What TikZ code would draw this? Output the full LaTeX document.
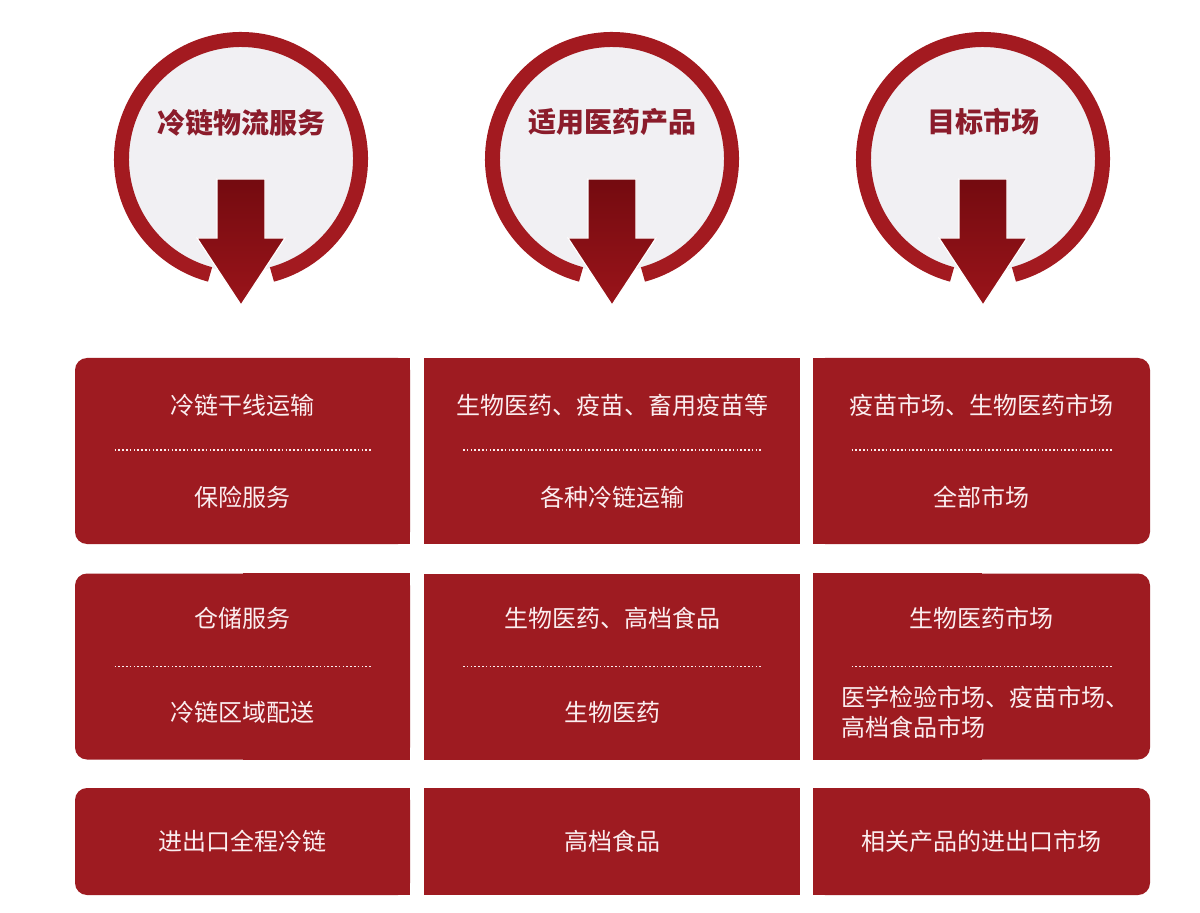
\documentclass[tikz,border=0pt]{standalone}
\usepackage{fontspec}
\setmainfont{Noto Sans CJK SC}
\usetikzlibrary{calc}
\definecolor{boxred}{HTML}{9E1B21}
\definecolor{ringred}{HTML}{A31A20}
\definecolor{arrowdark}{HTML}{6E090E}
\definecolor{arrowlight}{HTML}{9A141A}
\definecolor{titlered}{HTML}{8B1C2B}
\definecolor{discgray}{HTML}{F1F0F3}
\definecolor{itemwhite}{HTML}{FBEEF0}

\begin{document}
\begin{tikzpicture}[x=0.5pt,y=0.5pt,
  disc/.style={circle,fill=discgray,minimum size=113pt,inner sep=0pt},
  ring/.style={draw=ringred,line width=7.5pt},
  title/.style={text=titlered,font=\fontsize{14}{17}\selectfont\bfseries},
  down/.style={top color=arrowdark,bottom color=arrowlight,draw=white,line width=0.6pt},
  cell/.style={fill=boxred,inner sep=0pt,minimum height=93pt},
  item/.style={text=itemwhite,font=\fontsize{12}{15}\selectfont},
  divider/.style={draw=itemwhite,line width=0.9pt,dash pattern=on 0.8pt off 1.1pt}]

\useasboundingbox[fill=white] (0,0) rectangle (1200,912);

% heads
\node[disc] (svc) at (241,753) {};
\node[disc] (prod) at (612,753) {};
\node[disc] (mkt) at (983,753) {};

\draw[ring] ($(svc)+(-75:119.5)$) arc (-75:255:119.5);
\draw[ring] ($(prod)+(-75:119.5)$) arc (-75:255:119.5);
\draw[ring] ($(mkt)+(-75:119.5)$) arc (-75:255:119.5);

\node[title] (svc_t) at ($(svc)+(0,36)$) {冷链物流服务};
\node[title] (prod_t) at ($(prod)+(0,37)$) {适用医药产品};
\node[title] (mkt_t) at ($(mkt)+(0,37)$) {目标市场};

\draw[down] (svc.center) ++(-24,-20) -- ++(48,0) -- ++(0,-59) -- ++(20,0)
  -- ++(-44,-67) -- ++(-44,67) -- ++(20,0) -- cycle;
\draw[down] (prod.center) ++(-24,-20) -- ++(48,0) -- ++(0,-59) -- ++(20,0)
  -- ++(-44,-67) -- ++(-44,67) -- ++(20,0) -- cycle;
\draw[down] (mkt.center) ++(-24,-20) -- ++(48,0) -- ++(0,-59) -- ++(20,0)
  -- ++(-44,-67) -- ++(-44,67) -- ++(20,0) -- cycle;

% row 1
\node[cell,minimum width=167.5pt,rounded corners=6pt] (svc_1) at (242.5,461) {};
\fill[boxred] (svc_1.north) rectangle (svc_1.south east);
\node[cell,minimum width=188pt] (prod_1) at (612,461) {};
\node[cell,minimum width=168.5pt,rounded corners=6pt] (mkt_1) at (981.5,461) {};
\fill[boxred] (mkt_1.north west) rectangle (mkt_1.south);

\node[item] (svc_1a) at ($(svc_1)+(0,46)$) {冷链干线运输};
\node[item] (svc_1b) at ($(svc_1)+(0,-46)$) {保险服务};
\node[item] (prod_1a) at ($(prod_1)+(0,46)$) {生物医药、疫苗、畜用疫苗等};
\node[item] (prod_1b) at ($(prod_1)+(0,-46)$) {各种冷链运输};
\node[item] (mkt_1a) at ($(mkt_1)+(0,46)$) {疫苗市场、生物医药市场};
\node[item] (mkt_1b) at ($(mkt_1)+(0,-46)$) {全部市场};

\draw[divider] ($(svc_1)+(-128,1)$) -- ($(svc_1)+(128,1)$);
\draw[divider] ($(prod_1)+(-149,1)$) -- ($(prod_1)+(149,1)$);
\draw[divider] ($(mkt_1)+(-130,1)$) -- ($(mkt_1)+(130,1)$);

% row 2
\node[cell,minimum width=167.5pt,rounded corners=6pt] (svc_2) at (242.5,245.5) {};
\fill[boxred] (svc_2.north) rectangle (svc_2.south east);
\node[cell,minimum width=188pt] (prod_2) at (612,245.5) {};
\node[cell,minimum width=168.5pt,rounded corners=6pt] (mkt_2) at (981.5,245.5) {};
\fill[boxred] (mkt_2.north west) rectangle (mkt_2.south);

\node[item] (svc_2a) at ($(svc_2)+(0,48.5)$) {仓储服务};
\node[item] (svc_2b) at ($(svc_2)+(0,-45.5)$) {冷链区域配送};
\node[item] (prod_2a) at ($(prod_2)+(0,48.5)$) {生物医药、高档食品};
\node[item] (prod_2b) at ($(prod_2)+(0,-45.5)$) {生物医药};
\node[item] (mkt_2a) at ($(mkt_2)+(0,48.5)$) {生物医药市场};
\node[item,anchor=west,align=left] (mkt_2b) at (834,200) {医学检验市场、疫苗市场、\\高档食品市场};

\draw[divider] ($(svc_2)+(-128,0)$) -- ($(svc_2)+(128,0)$);
\draw[divider] ($(prod_2)+(-149,0)$) -- ($(prod_2)+(149,0)$);
\draw[divider] ($(mkt_2)+(-130,0)$) -- ($(mkt_2)+(130,0)$);

% row 3
\node[cell,minimum width=167.5pt,minimum height=53.5pt,rounded corners=6pt] (svc_3) at (242.5,70.5) {};
\fill[boxred] (svc_3.north) rectangle (svc_3.south east);
\node[cell,minimum width=188pt,minimum height=53.5pt] (prod_3) at (612,70.5) {};
\node[cell,minimum width=168.5pt,minimum height=53.5pt,rounded corners=6pt] (mkt_3) at (981.5,70.5) {};
\fill[boxred] (mkt_3.north west) rectangle (mkt_3.south);

\node[item] (svc_3a) at (svc_3) {进出口全程冷链};
\node[item] (prod_3a) at (prod_3) {高档食品};
\node[item] (mkt_3a) at (mkt_3) {相关产品的进出口市场};
\end{tikzpicture}
\end{document}
